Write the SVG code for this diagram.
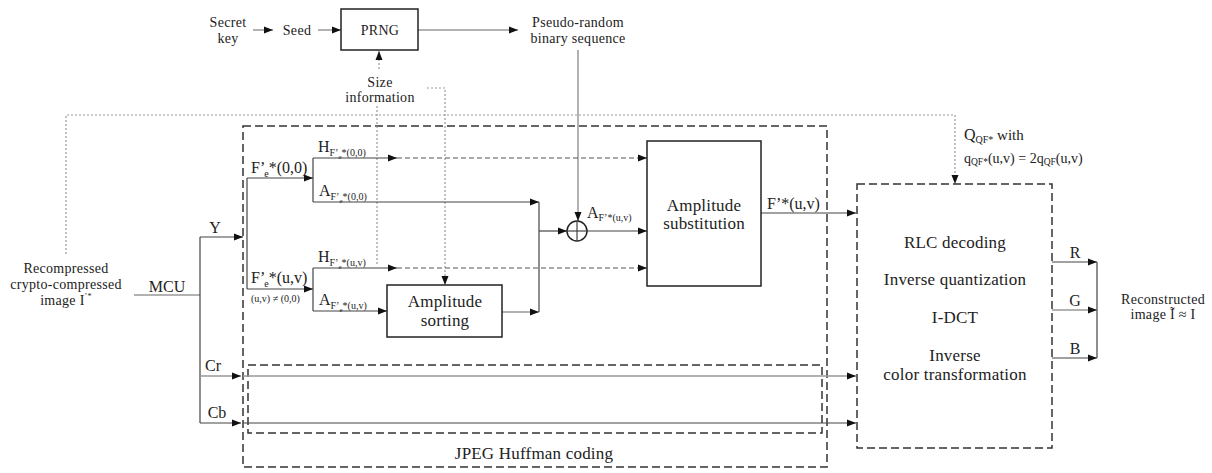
<svg xmlns="http://www.w3.org/2000/svg" width="1212" height="473" viewBox="0 0 1212 473">
<style>
text{font-family:"Liberation Serif","Times New Roman",serif;fill:#222;}
.s{font-size:14px;letter-spacing:0.3px;text-anchor:middle;}
.m{font-size:17px;letter-spacing:0.2px;text-anchor:middle;}
.lab{font-size:16px;}
.labc{font-size:16px;text-anchor:middle;}
.box{fill:#fff;stroke:#222;stroke-width:1.5;}
.dbox{fill:none;stroke:#333;stroke-width:1.5;stroke-dasharray:8 4;}
.ln{fill:none;stroke:#444;stroke-width:1.2;}
.gl{fill:none;stroke:#999;stroke-width:1.5;}
.da{fill:none;stroke:#555;stroke-width:1;stroke-dasharray:5 3;}
.dot{fill:none;stroke:#999;stroke-width:1.2;stroke-dasharray:2 2;}
</style>
<defs>
<marker id="ah" markerUnits="userSpaceOnUse" markerWidth="9" markerHeight="8" refX="9" refY="4" orient="auto"><path d="M0,0.5 L9,4 L0,7.5 z" fill="#111"/></marker>
</defs>

<g id="containers">
<rect id="huffman" class="dbox" x="243" y="126" width="584" height="341"/>
<rect id="chroma" class="dbox" x="248" y="365" width="574" height="68"/>
<text class="m" x="534" y="459">JPEG Huffman coding</text>
</g>

<g id="connectors">
<line class="gl" x1="253" y1="30" x2="273" y2="30" marker-end="url(#ah)"/>
<line class="gl" x1="318" y1="30" x2="341" y2="30" marker-end="url(#ah)"/>
<line class="gl" x1="418" y1="30" x2="518" y2="30" marker-end="url(#ah)"/>
<line class="gl" x1="578" y1="50" x2="578" y2="221" marker-end="url(#ah)"/>
<line class="dot" x1="379" y1="69" x2="379" y2="51" marker-end="url(#ah)"/>
<polyline class="dot" points="427,88 445,88 445,285" marker-end="url(#ah)"/>
<line class="dot" x1="377" y1="106" x2="377" y2="266"/>
<polyline class="dot" points="66,254 66,115 955,115 955,184" marker-end="url(#ah)"/>
<line class="gl" x1="134" y1="295" x2="200" y2="295"/>
<line class="ln" x1="200" y1="237" x2="200" y2="423"/>
<line class="ln" x1="200" y1="237" x2="243" y2="237" marker-end="url(#ah)"/>
<line class="gl" x1="200" y1="376" x2="241" y2="376" marker-end="url(#ah)"/>
<line class="gl" x1="243" y1="376" x2="856" y2="376" marker-end="url(#ah)"/>
<line class="ln" x1="200" y1="423" x2="241" y2="423" marker-end="url(#ah)"/>
<line class="ln" x1="243" y1="423" x2="856" y2="423" marker-end="url(#ah)"/>
<line class="ln" x1="247" y1="178" x2="247" y2="289"/>
<line class="ln" x1="247" y1="178" x2="313" y2="178" marker-end="url(#ah)"/>
<line class="ln" x1="247" y1="289" x2="313" y2="289" marker-end="url(#ah)"/>
<line class="ln" x1="313" y1="158" x2="313" y2="202"/>
<line class="ln" x1="313" y1="158" x2="397" y2="158" marker-end="url(#ah)"/>
<line class="da" x1="397" y1="158" x2="647" y2="158" marker-end="url(#ah)"/>
<line class="ln" x1="313" y1="202" x2="539" y2="202" marker-end="url(#ah)"/>
<line class="ln" x1="313" y1="268" x2="313" y2="311"/>
<line class="ln" x1="313" y1="268" x2="397" y2="268" marker-end="url(#ah)"/>
<line class="da" x1="397" y1="268" x2="647" y2="268" marker-end="url(#ah)"/>
<line class="ln" x1="313" y1="311" x2="387" y2="311" marker-end="url(#ah)"/>
<line class="gl" x1="502" y1="312" x2="539" y2="312" marker-end="url(#ah)"/>
<line class="ln" x1="539" y1="202" x2="539" y2="312"/>
<line class="ln" x1="539" y1="231" x2="567" y2="231" marker-end="url(#ah)"/>
<line class="ln" x1="587" y1="231" x2="647" y2="231" marker-end="url(#ah)"/>
<line class="ln" x1="761" y1="213" x2="856" y2="213" marker-end="url(#ah)"/>
<line class="ln" x1="1052" y1="262" x2="1097" y2="262" marker-end="url(#ah)"/>
<line class="gl" x1="1052" y1="310" x2="1097" y2="310" marker-end="url(#ah)"/>
<line class="ln" x1="1052" y1="358" x2="1097" y2="358" marker-end="url(#ah)"/>
<line class="ln" x1="1097" y1="262" x2="1097" y2="358"/>
</g>

<g id="secret-key"><text class="s" x="228" y="27">Secret</text><text class="s" x="228" y="43">key</text></g>
<g id="seed"><text class="s" x="297" y="35">Seed</text></g>
<g id="prng"><rect class="box" x="341" y="9" width="77" height="41"/><text class="s" x="380" y="35">PRNG</text></g>
<g id="prbs"><text class="s" x="578" y="27">Pseudo-random</text><text class="s" x="578" y="43">binary sequence</text></g>
<g id="size-info"><text class="s" x="380" y="87">Size</text><text class="s" x="380" y="102">information</text></g>
<g id="input"><text class="s" x="66" y="273">Recompressed</text><text class="s" x="66" y="289">crypto-compressed</text><text class="s" x="66" y="305">image I<tspan font-size="8" dy="-6">’*</tspan></text></g>
<g id="labels">
<text class="labc" x="167" y="292">MCU</text>
<text class="labc" x="215" y="233">Y</text>
<text class="labc" x="213" y="371">Cr</text>
<text class="labc" x="217" y="418">Cb</text>
<text class="lab" x="251" y="173">F’<tspan font-size="10" dx="-1" dy="4">e</tspan><tspan dy="-4">*(0,0)</tspan></text>
<text class="lab" x="251" y="283">F’<tspan font-size="10" dx="-1" dy="4">e</tspan><tspan dy="-4">*(u,v)</tspan></text>
<text x="251" y="302" style="font-size:10px">(u,v) ≠ (0,0)</text>
<text class="lab" x="318" y="152">H<tspan font-size="10" dy="4">F’</tspan><tspan font-size="7" dy="3">e</tspan><tspan font-size="10" dy="-3">*(0,0)</tspan></text>
<text class="lab" x="319" y="196">A<tspan font-size="10" dy="4">F’</tspan><tspan font-size="7" dy="3">e</tspan><tspan font-size="10" dy="-3">*(0,0)</tspan></text>
<text class="lab" x="318" y="262">H<tspan font-size="10" dy="4">F’</tspan><tspan font-size="7" dy="3">e</tspan><tspan font-size="10" dy="-3">*(u,v)</tspan></text>
<text class="lab" x="319" y="305">A<tspan font-size="10" dy="4">F’</tspan><tspan font-size="7" dy="3">e</tspan><tspan font-size="10" dy="-3">*(u,v)</tspan></text>
<text class="lab" x="587" y="218">A<tspan font-size="10" dy="3">F’*(u,v)</tspan></text>
<text class="lab" x="767" y="209">F’*(u,v)</text>
<text class="lab" x="964" y="140">Q<tspan font-size="10" dy="3">QF*</tspan><tspan font-size="15" dy="-3"> with</tspan></text>
<text x="964" y="163" style="font-size:14px">q<tspan font-size="9.5" dy="2">QF*</tspan><tspan dy="-2">(u,v) = 2q</tspan><tspan font-size="9.5" dy="2">QF</tspan><tspan dy="-2">(u,v)</tspan></text>
<text class="labc" x="1075" y="258">R</text>
<text class="labc" x="1075" y="306">G</text>
<text class="labc" x="1075" y="354">B</text>
</g>
<g id="adder"><circle cx="577" cy="231" r="10" fill="#fff" stroke="#222" stroke-width="1.5"/><line class="ln" x1="567" y1="231" x2="587" y2="231"/><line class="ln" x1="577" y1="221" x2="577" y2="241"/></g>
<g id="amp-sorting"><rect class="box" x="387" y="285" width="115" height="52"/><text class="m" x="445" y="307">Amplitude</text><text class="m" x="445" y="326">sorting</text></g>
<g id="amp-substitution"><rect class="box" x="647" y="141" width="114" height="145"/><text class="m" x="704" y="211">Amplitude</text><text class="m" x="704" y="229">substitution</text></g>
<g id="decoder"><rect class="dbox" x="857" y="184" width="195" height="264"/>
<text class="m" x="955" y="248">RLC decoding</text>
<text class="m" x="955" y="285">Inverse quantization</text>
<text class="m" x="955" y="323">I-DCT</text>
<text class="m" x="955" y="361">Inverse</text>
<text class="m" x="955" y="380">color transformation</text></g>
<g id="output"><text class="s" x="1163" y="304">Reconstructed</text><text class="s" x="1163" y="319">image Ĩ ≈ I</text></g>
</svg>
